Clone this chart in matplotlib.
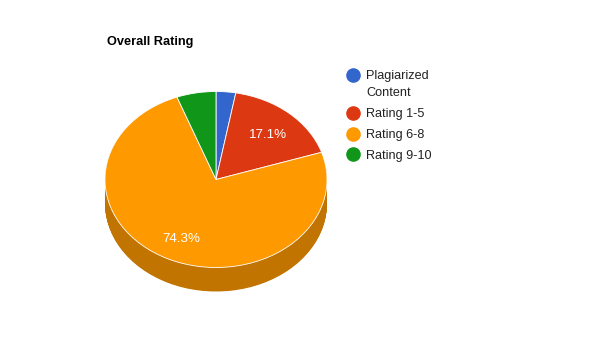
import matplotlib
matplotlib.use("Agg")
import matplotlib.pyplot as plt
import numpy as np
from matplotlib.colors import to_rgb
from matplotlib.lines import Line2D

plt.rcParams['font.family'] = ['Liberation Sans', 'DejaVu Sans']

title = "Overall Rating"
categories = ["Plagiarized\nContent", "Rating 1-5", "Rating 6-8", "Rating 9-10"]
values = [1, 6, 26, 2]
colors = ["#3366cc", "#dc3912", "#ff9900", "#109618"]

W, H = 612, 354
fig = plt.figure(figsize=(W / 100, H / 100), dpi=100)
ax = fig.add_axes([0, 0, 1, 1])

# pie geometry in pixels
cx, cy = 216, 179.5
rx, ry = 111, 88
depth = 24

def dark(c, f=0.76):
    r, g, b = to_rgb(c)
    return (r * f, g * f, b * f)

side_colors = [dark(c) for c in colors]
dy = depth / ry
steps = 40
for k in range(steps, 0, -1):
    ax.pie(values, colors=side_colors, startangle=90, counterclock=False,
           radius=1, center=(0, -dy * k / steps),
           wedgeprops=dict(linewidth=0, antialiased=True))

def fmt(p):
    return f"{p:.1f}%" if p > 10 else ""

wedges, texts, autotexts = ax.pie(values, colors=colors, startangle=90, counterclock=False,
                                  radius=1, center=(0, 0), autopct=fmt, pctdistance=0.71,
                                  wedgeprops=dict(linewidth=0.6, edgecolor="white"),
                                  textprops=dict(color="white", fontsize=9.6))
for t in autotexts:
    x, y = t.get_position()
    t.set_position((x, y - 3 / ry))

ax.set_aspect('auto')
ax.set_xlim(-cx / rx, (W - cx) / rx)
ax.set_ylim((cy - H) / ry, cy / ry)
ax.axis('off')

fig.text(107 / W, 1 - 45.5 / H, title, fontsize=9.2, fontweight='bold', color='black',
         ha='left', va='baseline')

# legend
y = 74.5
line_gap, row_gap = 17, 21
for lab, c in zip(categories, colors):
    fig.add_artist(Line2D([353 / W], [1 - y / H], marker='o', linestyle='none', markersize=9.5,
                          markerfacecolor=c, markeredgecolor=c, transform=fig.transFigure))
    lines = lab.split("\n")
    for j, ln in enumerate(lines):
        fig.text(366 / W, 1 - (y + j * line_gap + 1.5) / H, ln, fontsize=9.1, color='#222222',
                 ha='left', va='center')
    y += (len(lines) - 1) * line_gap + row_gap

fig.savefig("out.png", dpi=100)
